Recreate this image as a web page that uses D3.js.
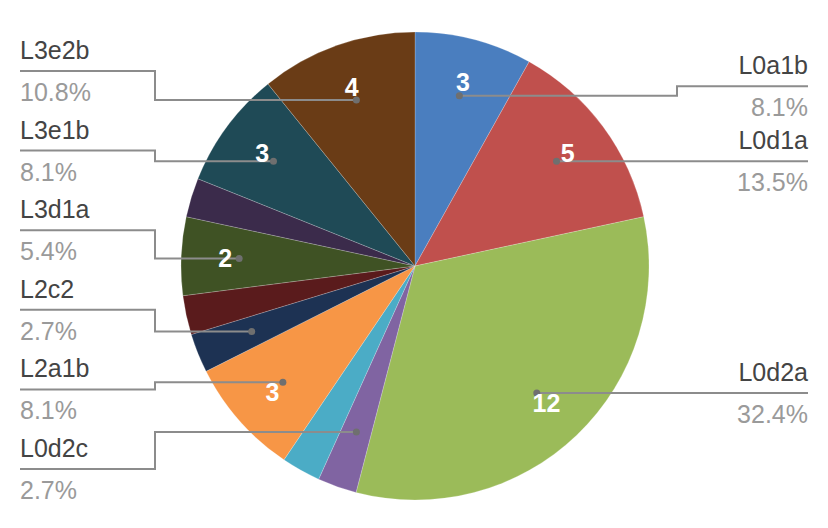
<!DOCTYPE html>
<html>
<head>
<meta charset="utf-8">
<script src="https://cdn.jsdelivr.net/npm/d3@7"></script>
<style>
  html, body { margin: 0; padding: 0; background: #ffffff; }
  svg { display: block; }
  text { font-family: "Liberation Sans", Arial, Helvetica, sans-serif; }
</style>
</head>
<body>
<svg id="chart" width="828" height="528"></svg>
<script>
// ---- data (clockwise from 12 o'clock) ----
const categories = ["L0a1b", "L0d1a", "L0d2a", "L0d2c", "L1b", "L2a1b", "L2c2", "L2b", "L3d1a", "L3d2", "L3e1b", "L3e2b"];
const values     = [3, 5, 12, 1, 1, 3, 1, 1, 2, 1, 3, 4];
const showLabel  = [true, true, true, true, false, true, true, false, true, false, true, true];
const labelSide  = ["right", "right", "right", "left", "", "left", "left", "", "left", "", "left", "left"];
const colors     = ["#4a7ebf", "#c0504d", "#9bbb59", "#8064a2", "#4bacc6", "#f79646",
                    "#1d3253", "#5a1b1c", "#3f5224", "#3b2b4b", "#1f4a56", "#6a3c16"];

const data = categories.map((c, i) => ({ name: c, value: values[i], show: showLabel[i], side: labelSide[i], color: colors[i] }));
const total = d3.sum(values);

// ---- layout ----
const svg = d3.select("#chart");
const cx = 415, cy = 266, R = 234;
const dotR = 176, numR = 190;
const leftX0 = 20, leftElbow = 155, rightX1 = 808, rightElbow = 677;

const pie = d3.pie().value(d => d.value).sort(null);
const arcs = pie(data);
const arc = d3.arc().innerRadius(0).outerRadius(R);

const g = svg.append("g").attr("transform", `translate(${cx},${cy})`);
g.selectAll("path.slice")
  .data(arcs)
  .enter().append("path")
  .attr("class", "slice")
  .attr("d", arc)
  .attr("fill", d => d.data.color)
  .attr("stroke", "rgba(255,255,255,0.25)")
  .attr("stroke-width", 0.8);

function polar(a, r) { return [cx + Math.sin(a) * r, cy - Math.cos(a) * r]; }

const labelled = arcs.filter(d => d.data.show).map(d => {
  const mid = (d.startAngle + d.endAngle) / 2;
  const [dx, dy] = polar(mid, dotR);
  const [tx, ty] = polar(mid, numR);
  return { d, dx, dy, tx, ty };
});

// left labels: spread evenly between top and bottom slots
const left = labelled.filter(l => l.d.data.side === "left").sort((a, b) => a.dy - b.dy);
const leftTop = 71, leftBottom = 469;
left.forEach((l, i) => { l.ly = leftTop + i * (leftBottom - leftTop) / (left.length - 1); });

// right labels: keep at dot height but with a minimum spacing (push upwards)
const right = labelled.filter(l => l.d.data.side === "right").sort((a, b) => b.dy - a.dy);
const minGap = 75;
right.forEach((l, i) => {
  l.ly = l.dy;
  if (i > 0 && right[i - 1].ly - l.ly < minGap) l.ly = right[i - 1].ly - minGap;
});

const lines = svg.append("g");
const lineColor = "#8c8c8c";

left.forEach(l => {
  lines.append("path")
    .attr("d", `M${l.dx},${l.dy} H${leftElbow} V${l.ly} H${leftX0}`)
    .attr("fill", "none").attr("stroke", lineColor).attr("stroke-width", 2);
});
right.forEach(l => {
  lines.append("path")
    .attr("d", `M${l.dx},${l.dy} H${rightElbow} V${l.ly} H${rightX1}`)
    .attr("fill", "none").attr("stroke", lineColor).attr("stroke-width", 2);
});

// dots
svg.append("g").selectAll("circle")
  .data(labelled).enter().append("circle")
  .attr("cx", l => l.dx).attr("cy", l => l.dy).attr("r", 3.5)
  .attr("fill", "#6f6f6f");

// value numbers inside slices
svg.append("g").selectAll("text")
  .data(labelled.filter(l => l.d.data.value >= 2)).enter().append("text")
  .attr("x", l => l.tx).attr("y", l => l.ty)
  .attr("dy", "0.36em")
  .attr("text-anchor", "middle")
  .attr("font-size", 25)
  .attr("font-weight", "bold")
  .attr("fill", "#ffffff")
  .text(l => l.d.data.value);

// outside labels
const fmt = v => (v / total * 100).toFixed(1) + "%";
const lab = svg.append("g");
[...left, ...right].forEach(l => {
  const isLeft = l.d.data.side === "left";
  const x = isLeft ? leftX0 : rightX1;
  const anchor = isLeft ? "start" : "end";
  lab.append("text")
    .attr("x", x).attr("y", l.ly - 12)
    .attr("text-anchor", anchor)
    .attr("font-size", 25)
    .attr("fill", "#444444")
    .text(l.d.data.name);
  lab.append("text")
    .attr("x", x).attr("y", l.ly + 30)
    .attr("text-anchor", anchor)
    .attr("font-size", 25)
    .attr("fill", "#9a9a9a")
    .text(fmt(l.d.data.value));
});
</script>
</body>
</html>
